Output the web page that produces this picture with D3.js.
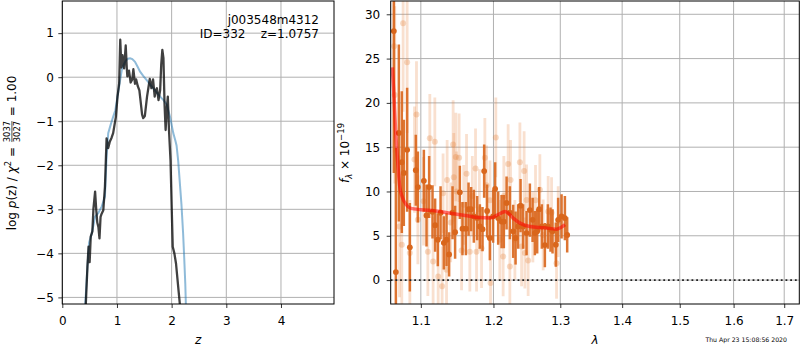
<!DOCTYPE html>
<meta charset="utf-8">
<script src="https://d3js.org/d3.v7.min.js"></script>
<style>
  body { margin: 0; background: #fff; }
  text { font-family: "DejaVu Sans", sans-serif; white-space: pre; }
</style>
<div id="chart"></div>
<script>

// ---- left panel: log p(z) ----
var pzZ   = [0.42, 0.43, 0.46, 0.48, 0.50, 0.52, 0.55, 0.57, 0.60, 0.62, 0.64, 0.66, 0.68, 0.70, 0.72, 0.75, 0.78, 0.81, 0.84, 0.87,
             0.90, 0.93, 0.96, 0.98, 1.01, 1.04, 1.06, 1.07, 1.08, 1.10, 1.12, 1.13, 1.16, 1.18, 1.19, 1.22, 1.25, 1.28, 1.30, 1.33,
             1.35, 1.38, 1.41, 1.43, 1.46, 1.48, 1.51, 1.55, 1.58, 1.60, 1.63, 1.66, 1.69, 1.71, 1.73, 1.76, 1.79, 1.81, 1.83, 1.85,
             1.87, 1.89, 1.91, 1.93, 1.95, 1.98, 2.00, 2.02, 2.05, 2.08, 2.12, 2.15, 2.17];
var pzLog = [-5.6, -5.15, -4.3, -3.85, -4.2, -3.62, -3.5, -2.98, -2.6, -3.0, -3.3, -3.4, -3.66, -3.17, -3.1, -3.02, -2.49, -1.39, -1.61, -1.46,
             -1.38, -1.27, -1.05, -0.9, -0.44, -0.14, 0.85, 0.55, 0.22, 0.5, 0.3, 0.2, 0.72, 0.2, 0.02, 0.15, -0.12, -0.05, 0.18, -0.15,
             -0.05, -0.2, -0.3, -0.52, -0.85, -0.93, -0.88, -0.44, -0.2, -0.04, -0.25, -0.05, -0.44, -0.3, -0.25, -0.52, -0.29, 0.3, 0.62, 0.43,
             -0.6, -1.2, -0.74, -0.44, -1.16, -1.9, -2.9, -3.85, -4.0, -4.23, -4.76, -5.15, -5.6];
var priorZ   = [0.41, 0.42, 0.46, 0.49, 0.54, 0.60, 0.66, 0.72, 0.78, 0.81, 0.84, 0.88, 0.93, 0.97, 1.02, 1.06, 1.09, 1.13,
                1.16, 1.20, 1.24, 1.28, 1.33, 1.38, 1.42, 1.48, 1.54, 1.60, 1.66, 1.72, 1.79, 1.85, 1.91, 1.97, 2.03, 2.07, 2.09, 2.12,
                2.15, 2.18, 2.21, 2.23, 2.25, 2.27];
var priorLog = [-5.6, -5.15, -4.3, -3.75, -3.55, -3.17, -3.08, -2.94, -2.71, -1.8, -1.27, -1.1, -0.9, -0.75, -0.36, -0.05, 0.17, 0.3,
                0.37, 0.42, 0.43, 0.41, 0.35, 0.23, 0.13, 0.03, -0.06, -0.15, -0.25, -0.34, -0.44, -0.52, -0.62, -0.9, -1.27, -1.45, -1.55, -1.9,
                -2.4, -2.9, -3.55, -4.1, -4.7, -5.6];
var zTicks = [0, 1, 2, 3, 4];
var logTicks = [-5, -4, -3, -2, -1, 0, 1];

// ---- right panel: spectrum ----
var darkWave = [1.0650, 1.0676, 1.0714, 1.0752, 1.0778, 1.0821, 1.0856, 1.0934, 1.0961, 1.1040, 1.1075, 1.1110, 1.1155, 1.1190, 1.1226,
                1.1263, 1.1307, 1.1344, 1.1379, 1.1426, 1.1461, 1.1526, 1.1563, 1.1610, 1.1647, 1.1683, 1.1721, 1.1768, 1.1806, 1.1844,
                1.1867, 1.1909, 1.1948, 1.1995, 1.2024, 1.2068, 1.2117, 1.2150, 1.2190, 1.2238, 1.2287, 1.2322, 1.2360, 1.2396, 1.2434,
                1.2485, 1.2535, 1.2576, 1.2610, 1.2645, 1.2675, 1.2716, 1.2762, 1.2808, 1.2849, 1.2880, 1.2931, 1.2967, 1.3020, 1.3072, 1.3108];
var darkFlux = [28.1, 0.9, 16.6, 13.3, 12.1, 14.7, 3.7, 12.4, 10.5, 11.2, 7.3, 10.5, 7.7, 6.2, 4.55,
                7.6, 4.2, 4.55, 2.9, 7.6, 5.4, 9.9, 5.8, 5.8, 8.0, 8.0, 7.2, 7.0, 6.05, 5.75,
                12.3, 7.8, 4.75, 7.2, 10.3, 7.0, 6.6, 6.6, 8.7, 7.6, 5.5, 4.75, 6.05, 8.4, 6.05,
                5.3, 7.9, 6.8, 5.3, 5.5, 8.0, 6.05, 3.95, 6.05, 5.7, 5.5, 4.0, 6.8, 7.2, 7.0, 5.1];
var darkErr  = [16, 14, 10, 8, 6, 7, 5, 4, 4, 3.5, 3.5, 3.5, 3, 3, 3,
                3, 3, 3, 2.5, 3, 3, 3, 3, 3, 3, 2.5, 3, 2.5, 2.5, 2.5,
                3, 3, 2.5, 3, 3, 3, 3, 3, 3, 3, 3, 3, 2.5, 3, 2.5,
                2.5, 3, 2.5, 2.5, 2.5, 2.5, 2.5, 2.5, 2.5, 2.5, 2.5, 2.5, 2.5, 2.5, 2.5, 2];

var faintWave = [1.0654, 1.0662, 1.0769, 1.0821, 1.0752, 1.0723, 1.0856, 1.0917, 1.0943, 1.0961, 1.1036, 1.1093, 1.1119, 1.1186, 1.1163,
                 1.1231, 1.1284, 1.1297, 1.1344, 1.1352, 1.1400, 1.1434, 1.1471, 1.1516, 1.1443, 1.1480, 1.1550, 1.1580, 1.1619, 1.1665,
                 1.1700, 1.1745, 1.1759, 1.1800, 1.1830, 1.1877, 1.1901, 1.1950, 1.1958, 1.2034, 1.2092, 1.2140, 1.2150, 1.2213, 1.2248,
                 1.2238, 1.2312, 1.2386, 1.2411, 1.2449, 1.2460, 1.2509, 1.2485, 1.2580, 1.2620, 1.2686, 1.2736, 1.2813, 1.2865, 1.2942, 1.2967];
var faintFlux = [26.4, 20.9, 29.0, 24.6, 4.0, 6.05, 3.05, 13.6, 18.7, 6.8, 8.9, 3.2, 16.0, 15.6, 2.1,
                 0.4, -0.7, 9.8, 1.16, 11.3, 6.5, 15.3, 13.9, 13.8, 11.6, 10.0, 3.35, 8.5, 12.0, 3.2,
                 9.5, 12.6, 3.2, 8.0, 3.6, 13.8, 10.7, 9.0, -0.34, 16.1, 4.55, 2.67, 9.5, 13.1, 11.3,
                 1.54, 4.55, 13.3, 3.8, 12.3, 3.05, 2.2, 9.05, 6.0, 9.0, 10.2, 5.1, 7.75, 7.6, 1.9, 6.6];
var faintErr  = [12, 10, 10, 8, 8, 8, 6, 6, 6, 5, 5, 5, 5, 5, 5,
                 4.5, 4.5, 4.5, 4.5, 4.5, 4.5, 5, 5, 5, 5, 4.5, 4.5, 4.5, 4.5, 4.5,
                 4.5, 4.5, 4.5, 4.5, 4.5, 4.5, 4.5, 4.5, 4.5, 4.5, 4.5, 4.5, 4.5, 4.5, 4.5,
                 4.5, 4.5, 4.5, 4.5, 4.5, 4, 4, 4, 4, 4, 4, 4, 4, 4, 4, 4];

var modelWave = [1.0630, 1.0650, 1.0670, 1.0697, 1.0725, 1.0757, 1.0810, 1.0870, 1.1000, 1.1200, 1.1400, 1.1600, 1.1800, 1.1950,
                 1.2070, 1.2170, 1.2213, 1.2287, 1.2396, 1.2535, 1.2750, 1.2942, 1.3075];
var modelFlux = [24.0, 21.1, 17.3, 13.6, 10.6, 9.4, 8.5, 8.1, 7.95, 7.8, 7.55, 7.3, 7.05, 7.0,
                 7.4, 7.75, 7.55, 7.0, 6.4, 6.05, 5.9, 5.75, 6.25];

var waveTicks = [1.1, 1.2, 1.3, 1.4, 1.5, 1.6, 1.7];
var fluxTicks = [0, 5, 10, 15, 20, 25, 30];

var FS = 12;

var svg = d3.select("#chart").append("svg")
    .attr("width", 800)
    .attr("height", 350);

// panel boxes
var L = {left: 62.3, right: 334, top: 1, bottom: 304};
var R = {left: 390.7, right: 799.3, top: 1, bottom: 304};

var zx = d3.scaleLinear().domain([0, 4.97]).range([L.left, L.right]);
var zy = d3.scaleLinear().domain([-5.15, 1.73]).range([L.bottom, L.top]);
var lx = d3.scaleLog().domain([1.061, 1.731]).range([R.left, R.right]);
var fy = d3.scaleLinear().domain([-2.7, 31.5]).range([R.bottom, R.top]);

function clip(id, b) {
  svg.append("clipPath").attr("id", id)
    .append("rect")
      .attr("x", b.left).attr("y", b.top)
      .attr("width", b.right - b.left).attr("height", b.bottom - b.top);
}
clip("clipL", L);
clip("clipR", R);

function grid(b, x, y, xt, yt) {
  var g = svg.append("g");
  g.selectAll(".gx").data(xt).enter().append("line")
    .attr("x1", function(d) { return x(d); }).attr("x2", function(d) { return x(d); })
    .attr("y1", b.top).attr("y2", b.bottom)
    .attr("stroke", "#b0b0b0").attr("stroke-width", 1);
  g.selectAll(".gy").data(yt).enter().append("line")
    .attr("y1", function(d) { return y(d); }).attr("y2", function(d) { return y(d); })
    .attr("x1", b.left).attr("x2", b.right)
    .attr("stroke", "#b0b0b0").attr("stroke-width", 1);
}

function axes(b, x, y, xt, yt, xfmt, ypad) {
  var ax = svg.append("g")
      .attr("transform", "translate(0," + b.bottom + ")")
      .call(d3.axisBottom(x).tickValues(xt).tickFormat(xfmt).tickSize(4).tickPadding(8.3));
  var ay = svg.append("g")
      .attr("transform", "translate(" + b.left + ",0)")
      .call(d3.axisLeft(y).tickValues(yt).tickFormat(d3.format("d")).tickSize(4).tickPadding(ypad));
  [ax, ay].forEach(function(a) {
    a.select(".domain").remove();
    a.selectAll("line").attr("stroke", "#000").attr("stroke-width", 0.8);
    a.selectAll("text").attr("font-size", FS).attr("fill", "#000")
      .style("font-family", "DejaVu Sans");
  });
  svg.append("rect")
    .attr("x", b.left).attr("y", b.top)
    .attr("width", b.right - b.left).attr("height", b.bottom - b.top)
    .attr("fill", "none").attr("stroke", "#000").attr("stroke-width", 1);
}

// ---------- left panel ----------
grid(L, zx, zy, zTicks, logTicks);

var zline = d3.line()
    .x(function(d) { return zx(d[0]); })
    .y(function(d) { return zy(d[1]); });

var lp = svg.append("g").attr("clip-path", "url(#clipL)");
lp.append("path")
    .attr("d", zline(d3.zip(priorZ, priorLog)))
    .attr("fill", "none")
    .attr("stroke", "#1f77b4")
    .attr("stroke-opacity", 0.5)
    .attr("stroke-width", 2);
lp.append("path")
    .attr("d", zline(d3.zip(pzZ, pzLog)))
    .attr("fill", "none")
    .attr("stroke", "#000")
    .attr("stroke-opacity", 0.75)
    .attr("stroke-width", 2.3)
    .attr("stroke-linejoin", "round");

axes(L, zx, zy, zTicks, logTicks, d3.format("d"), 4.5);

svg.append("text")
    .attr("x", 319).attr("y", 24)
    .attr("text-anchor", "end").attr("font-size", FS)
    .text("j003548m4312");
svg.append("text")
    .attr("x", 319).attr("y", 37.7)
    .attr("text-anchor", "end").attr("font-size", FS)
    .text("ID=332    z=1.0757");

svg.append("text")
    .attr("x", (L.left + L.right) / 2).attr("y", 344)
    .attr("text-anchor", "middle").attr("font-size", FS)
    .attr("font-style", "italic")
    .text("z");

// y label with the chi2 fraction
var ylabOuter = svg.append("g").attr("transform", "translate(16,153) rotate(-90)");
var ylab = ylabOuter.append("g");
var t1 = ylab.append("text").attr("font-size", FS);
t1.append("tspan").text("log ");
t1.append("tspan").attr("font-style", "italic").text("p");
t1.append("tspan").text("(z) / ");
t1.append("tspan").attr("font-style", "italic").text("χ");
t1.append("tspan").attr("font-size", 8.5).attr("dy", -5.2).text("2");
t1.append("tspan").attr("dy", 5.2).text(" = ");
var w1 = t1.node().getComputedTextLength();
var fw = 23;
ylab.append("text").attr("x", w1 + fw / 2).attr("y", -5.8)
    .attr("text-anchor", "middle").attr("font-size", 8.4).text("3037");
ylab.append("line").attr("x1", w1 + 1).attr("x2", w1 + fw - 1)
    .attr("y1", -4.1).attr("y2", -4.1).attr("stroke", "#000").attr("stroke-width", 0.7);
ylab.append("text").attr("x", w1 + fw / 2).attr("y", 4.2)
    .attr("text-anchor", "middle").attr("font-size", 8.4).text("3027");
var t3 = ylab.append("text").attr("x", w1 + fw).attr("font-size", FS).text(" = 1.00");
var total = w1 + fw + t3.node().getComputedTextLength();
ylab.attr("transform", "translate(" + (-total / 2) + ",0)");

// ---------- right panel ----------
grid(R, lx, fy, waveTicks, fluxTicks);

var rp = svg.append("g").attr("clip-path", "url(#clipR)");
var faint = d3.zip(faintWave, faintFlux, faintErr);
var dark = d3.zip(darkWave, darkFlux, darkErr);

rp.selectAll(".fbar").data(faint).enter().append("line")
    .attr("x1", function(d) { return lx(d[0]); }).attr("x2", function(d) { return lx(d[0]); })
    .attr("y1", function(d) { return fy(d[1] - d[2]); })
    .attr("y2", function(d) { return fy(d[1] + d[2]); })
    .attr("stroke", "#e6843e").attr("stroke-opacity", 0.25).attr("stroke-width", 2.8);
rp.selectAll(".fdot").data(faint).enter().append("circle")
    .attr("cx", function(d) { return lx(d[0]); })
    .attr("cy", function(d) { return fy(d[1]); })
    .attr("r", 3).attr("fill", "#e6843e").attr("fill-opacity", 0.3);

rp.selectAll(".dbar").data(dark).enter().append("line")
    .attr("x1", function(d) { return lx(d[0]); }).attr("x2", function(d) { return lx(d[0]); })
    .attr("y1", function(d) { return fy(d[1] - d[2]); })
    .attr("y2", function(d) { return fy(d[1] + d[2]); })
    .attr("stroke", "#d9661c").attr("stroke-opacity", 0.9).attr("stroke-width", 2.5);
rp.selectAll(".ddot").data(dark).enter().append("circle")
    .attr("cx", function(d) { return lx(d[0]); })
    .attr("cy", function(d) { return fy(d[1]); })
    .attr("r", 2.9).attr("fill", "#d9661c");

rp.append("path")
    .attr("d", d3.line()
        .x(function(d) { return lx(d[0]); })
        .y(function(d) { return fy(d[1]); })
        .curve(d3.curveMonotoneX)(d3.zip(modelWave, modelFlux)))
    .attr("fill", "none")
    .attr("stroke", "red").attr("stroke-opacity", 0.55)
    .attr("stroke-width", 3.5).attr("stroke-linejoin", "round");

rp.append("line")
    .attr("x1", R.left).attr("x2", R.right)
    .attr("y1", fy(0)).attr("y2", fy(0))
    .attr("stroke", "#222").attr("stroke-width", 1.8)
    .attr("stroke-dasharray", "1.8,2.9");

axes(R, lx, fy, waveTicks, fluxTicks, d3.format(".1f"), 6.5);

svg.append("text")
    .attr("x", (R.left + R.right) / 2).attr("y", 344)
    .attr("text-anchor", "middle").attr("font-size", FS)
    .attr("font-style", "italic")
    .text("λ");

var ry = svg.append("text")
    .attr("transform", "translate(349,153) rotate(-90)")
    .attr("text-anchor", "middle").attr("font-size", FS);
ry.append("tspan").attr("font-style", "italic").text("f");
ry.append("tspan").attr("font-style", "italic").attr("font-size", 8.5).attr("dy", 2.5).text("λ");
ry.append("tspan").attr("dy", -2.5).text(" × 10");
ry.append("tspan").attr("font-size", 8.5).attr("dy", -5.2).text("−19");

svg.append("text")
    .attr("x", 787).attr("y", 342)
    .attr("text-anchor", "end").attr("font-size", 6.2)
    .attr("fill", "#000")
    .text("Thu Apr 23 15:08:56 2020");

</script>
